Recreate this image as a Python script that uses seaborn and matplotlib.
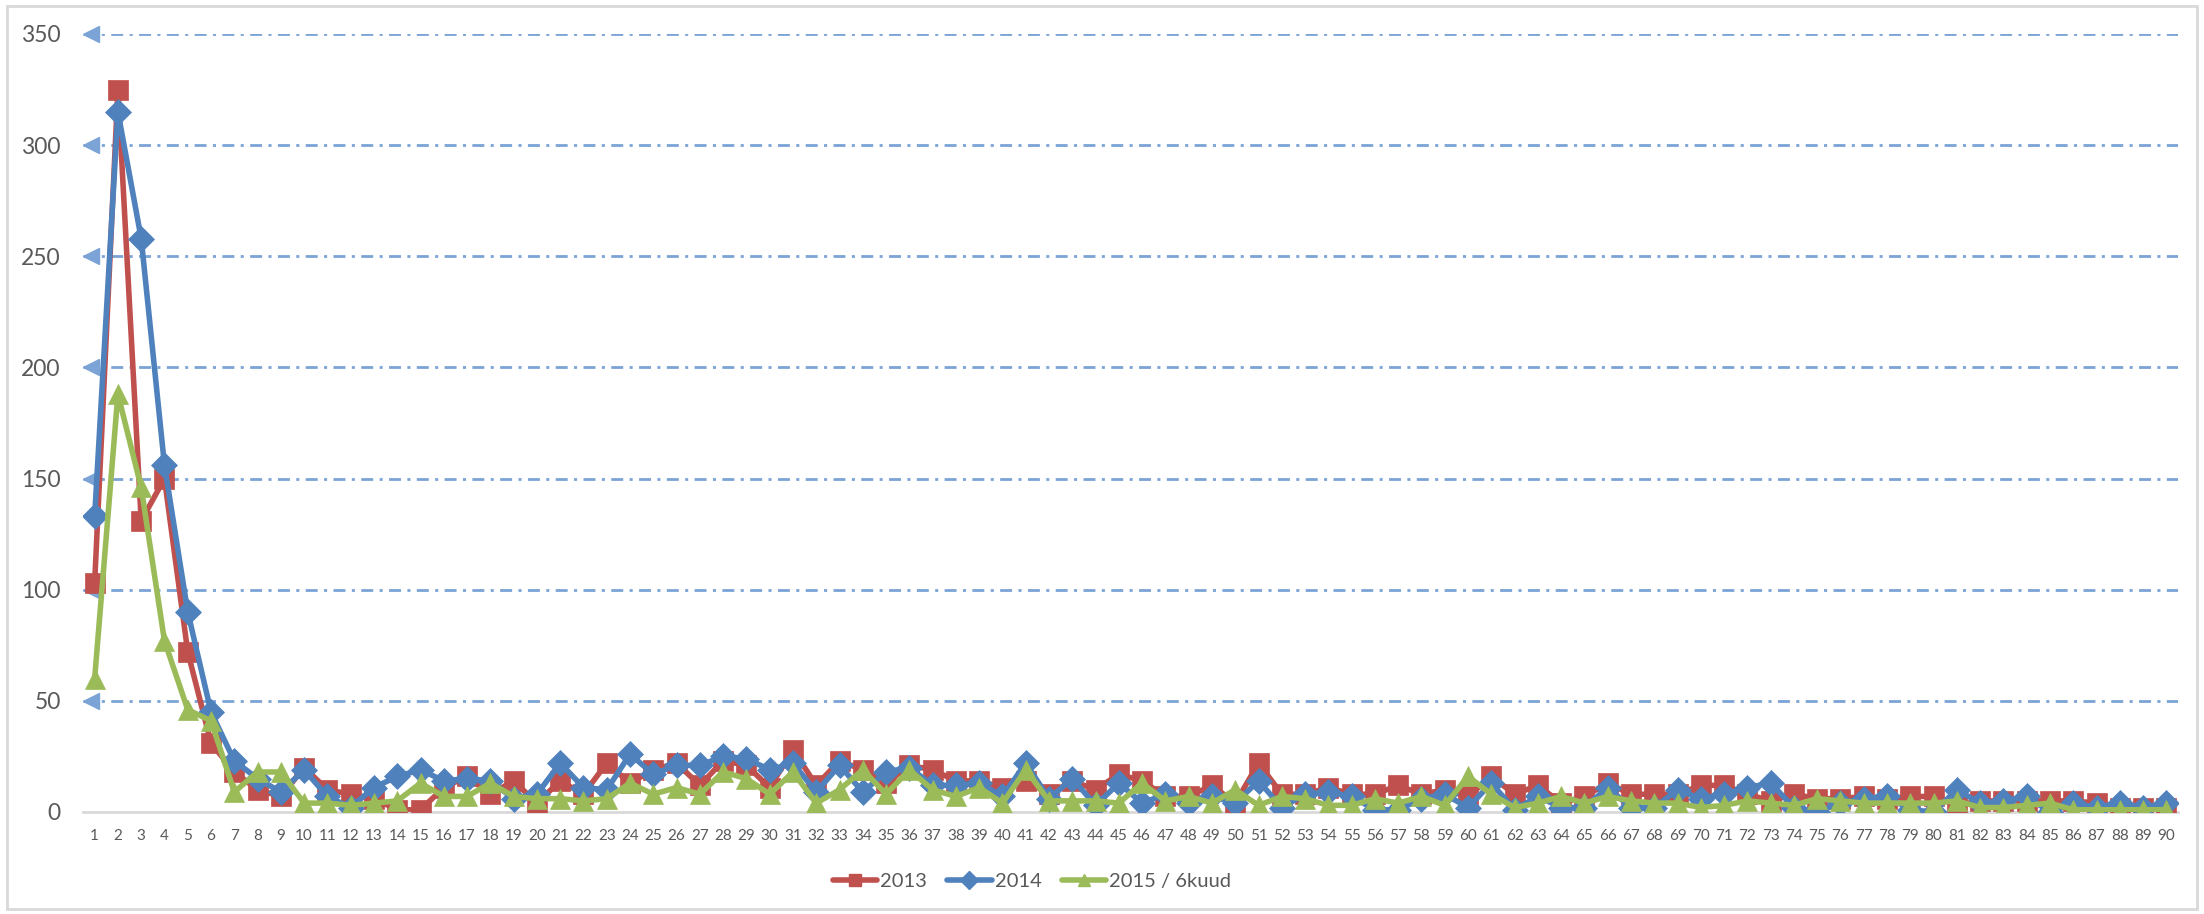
import numpy as np
import pandas as pd
import matplotlib
matplotlib.use("Agg")
import matplotlib.pyplot as plt
from matplotlib.patches import Rectangle
from matplotlib.lines import Line2D
import seaborn as sns

# Data
categories = list(range(1, 91))

y_2013 = [103, 325, 131, 150, 72, 31, 18, 10, 7, 20,
          10, 8, 6, 1, 1, 11, 16, 8, 14, 4,
          14, 8, 22, 13, 19, 22, 12, 23, 21, 11,
          28, 12, 23, 19, 13, 21, 19, 14, 14, 11,
          14, 8, 14, 10, 17, 14, 7, 7, 12, 4,
          22, 8, 8, 11, 8, 8, 12, 8, 10, 7,
          16, 8, 12, 4, 7, 13, 8, 8, 8, 12,
          12, 8, 5, 8, 6, 6, 7, 6, 7, 7,
          3, 5, 5, 5, 5, 5, 4, 2, 2, 2]

y_2014 = [133, 315, 258, 156, 90, 45, 23, 15, 9, 19,
          7, 2, 11, 16, 19, 14, 15, 14, 6, 8,
          22, 11, 10, 26, 17, 21, 21, 25, 24, 19,
          22, 9, 21, 9, 18, 20, 12, 12, 13, 7,
          22, 6, 15, 3, 13, 4, 8, 4, 7, 4,
          14, 2, 8, 9, 7, 1, 1, 6, 8, 2,
          13, 1, 7, 2, 2, 11, 2, 2, 10, 6,
          8, 11, 13, 2, 0, 4, 6, 7, 1, 0,
          10, 4, 5, 7, 0, 4, 2, 4, 2, 4]

y_2015 = [60, 188, 146, 77, 46, 41, 9, 18, 18, 4,
          4, 3, 4, 5, 13, 7, 7, 13, 7, 6,
          6, 5, 6, 13, 8, 11, 8, 18, 15, 8,
          18, 4, 10, 19, 8, 19, 10, 7, 11, 4,
          19, 5, 5, 5, 4, 13, 5, 7, 4, 10,
          3, 7, 6, 3, 3, 6, 4, 7, 3, 16,
          8, 2, 4, 7, 4, 7, 5, 4, 4, 2,
          3, 5, 4, 3, 6, 5, 4, 4, 4, 4,
          5, 2, 2, 3, 4, 1, 1, 1, 1, 1]

series_names = ["2013", "2014", "2015 / 6kuud"]
series_colors = ["#C0504D", "#4F81BD", "#9BBB59"]
series_markers = ["s", "D", "^"]
yticks = [0, 50, 100, 150, 200, 250, 300, 350]

sns.set_style("white")
plt.rcParams["font.family"] = ["Lato", "DejaVu Sans"]

fig = plt.figure(figsize=(22.04, 9.14), dpi=100)
ax = fig.add_axes([83 / 2204, 1 - 812 / 914, (2178 - 83) / 2204, (812 - 34) / 914])

# dash-dot gridlines with a left-pointing arrow head at the axis
grid_color = "#7BA3D6"
for yv in yticks[1:]:
    ax.axhline(yv, color=grid_color, lw=2, ls=(0, (4.3, 2.3, 1.1, 2.3)), zorder=1)
    ax.plot([0.5 + 0.36], [yv], marker="<", ms=12, color=grid_color, mec=grid_color,
            clip_on=False, zorder=1)

msizes = [14, 13, 15]
for name, vals, col, mk, ms in zip(series_names, [y_2013, y_2014, y_2015],
                                   series_colors, series_markers, msizes):
    sns.lineplot(x=categories, y=vals, ax=ax, color=col, marker=mk, markersize=ms,
                 markeredgecolor=col, markeredgewidth=0.5, lw=4, zorder=3)

ax.set_xlim(0.5, 90.5)
ax.set_ylim(0, 350)
ax.set_yticks(yticks)
ax.set_xticks(categories)
ax.set_xticklabels([str(c) for c in categories])
ax.set_xticks(np.arange(0.5, 91, 1), minor=True)
ax.tick_params(axis="x", which="major", length=0, pad=12, labelsize=11, labelcolor="#595959")
ax.tick_params(axis="x", which="minor", length=5, width=1.5, color="#D9D9D9", direction="in")
ax.tick_params(axis="y", length=0, pad=16, labelsize=16.5, labelcolor="#595959")
ax.set_xlabel("")
ax.set_ylabel("")
for side in ["left", "right", "top"]:
    ax.spines[side].set_visible(False)
ax.spines["bottom"].set_color("#D9D9D9")
ax.spines["bottom"].set_linewidth(2)

handles = [Line2D([0], [0], color=c, lw=4, marker=m, ms=9, mec=c)
           for c, m in zip(series_colors, series_markers)]
fig.legend(handles, series_names, loc="center", bbox_to_anchor=(1032 / 2204, 1 - 881 / 914),
           ncol=3, frameon=False, fontsize=14.5, labelcolor="#595959",
           handlelength=2.2, handletextpad=0.15, columnspacing=1.0, borderpad=0)

fig.patches.append(Rectangle((7 / 2204, 5 / 914), 2190 / 2204, 903 / 914,
                             transform=fig.transFigure, fill=False,
                             edgecolor="#D9D9D9", lw=2))

fig.savefig("out.png", dpi=100)
